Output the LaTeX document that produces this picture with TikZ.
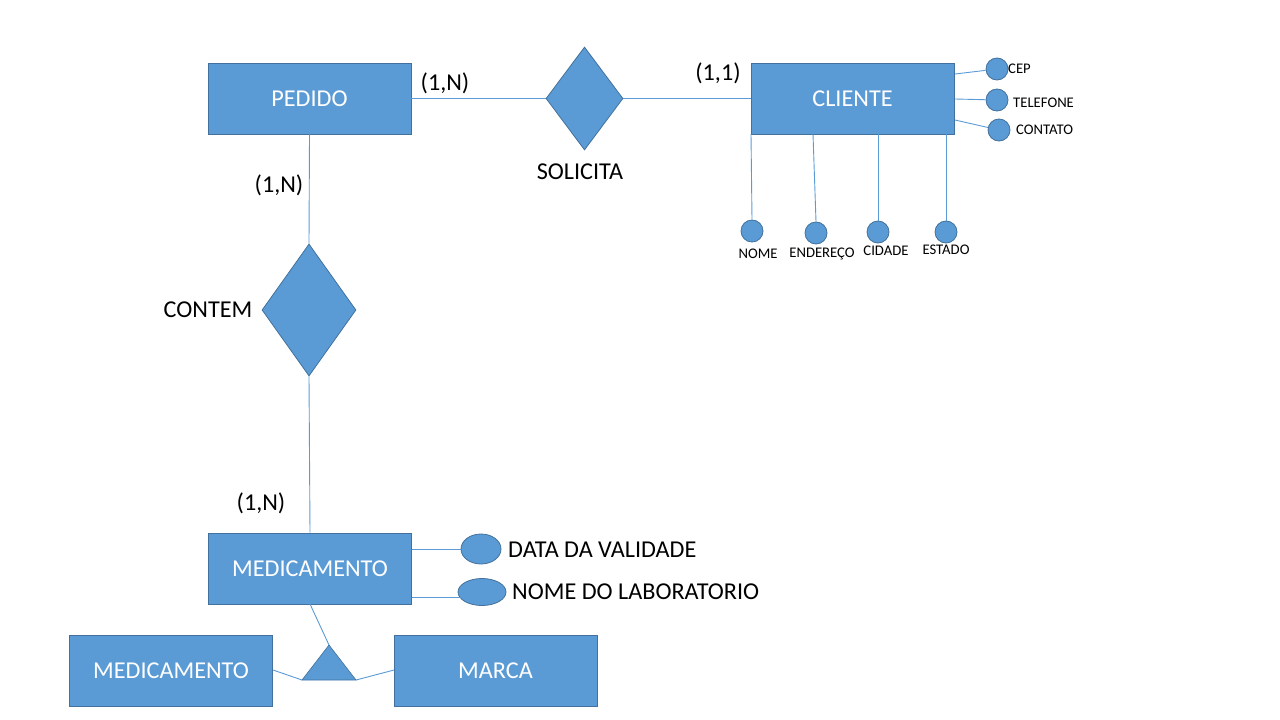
\documentclass[tikz,border=0pt]{standalone}
\usepackage{fontspec}
\setmainfont{Carlito}
\usetikzlibrary{shapes.geometric}
\definecolor{fillb}{HTML}{5B9BD5}
\definecolor{edgeb}{HTML}{41719C}
\begin{document}
\begin{tikzpicture}[x=1pt,y=-1pt,
  ent/.style={draw=edgeb,fill=fillb,line width=0.8pt,minimum width=203pt,minimum height=71pt,inner sep=0pt,text=white,font=\fontsize{24.2}{28}\selectfont},
  rel/.style={diamond,draw=edgeb,fill=fillb,line width=0.8pt,inner sep=0pt},
  att/.style={circle,draw=edgeb,fill=fillb,line width=0.8pt,minimum size=22pt,inner sep=0pt},
  oval/.style={ellipse,draw=edgeb,fill=fillb,line width=0.8pt,inner sep=0pt},
  lbl/.style={font=\fontsize{24.2}{28}\selectfont,inner sep=0pt},
  sml/.style={font=\fontsize{14.7}{17}\selectfont,inner sep=0pt},
  conn/.style={draw=fillb,line width=0.9pt}]
\useasboundingbox (0,0) rectangle (1280,720);
% entities
\node[ent] (pedido) at (309.5,98.5) {PEDIDO};
\node[ent] (cliente) at (852.5,98.5) {CLIENTE};
\node[ent] (med) at (310,568.5) {MEDICAMENTO};
\node[ent] (med2) at (171,670.5) {MEDICAMENTO};
\node[ent] (marca) at (495.5,670.5) {MARCA};
% relationships
\node[rel,minimum width=77pt,minimum height=103pt] (solicita) at (584.5,98.5) {};
\node[rel,minimum width=94pt,minimum height=132pt] (contem) at (309,310) {};
\node[lbl] (lsol) at (580,172) {SOLICITA};
\node[lbl] (lcon) at (208,310) {CONTEM};
% cardinalities
\node[lbl] (c1) at (445,83) {(1,N)};
\node[lbl] (c2) at (718,73) {(1,1)};
\node[lbl] (c3) at (279,185) {(1,N)};
\node[lbl] (c4) at (261,503) {(1,N)};
% relationship connectors
\draw[conn] (pedido.east) -- (solicita.west);
\draw[conn] (solicita.east) -- (cliente.west);
\draw[conn] (pedido.south) -- (contem.north);
\draw[conn] (contem.south) -- (med.north);
% cliente right attributes
\node[att] (cep) at (997,69) {};
\node[att] (tel) at (997,100) {};
\node[att] (cont) at (999,130) {};
\node[sml,anchor=west] (lcep) at (1008,69) {CEP};
\node[sml,anchor=west] (ltel) at (1013,103) {TELEFONE};
\node[sml,anchor=west] (lcont) at (1016,130) {CONTATO};
\coordinate (cr1) at (955,74);
\coordinate (cr2) at (955,99);
\coordinate (cr3) at (955,120);
\draw[conn] (cr1) -- (cep);
\draw[conn] (cr2) -- (tel);
\draw[conn] (cr3) -- (cont);
% cliente bottom attributes
\node[att] (nome) at (752,231) {};
\node[att] (end) at (816,233) {};
\node[att] (cid) at (878,232) {};
\node[att] (est) at (946,232) {};
\node[sml] (lnome) at (758,254) {NOME};
\node[sml] (lend) at (822,254) {ENDEREÇO};
\node[sml] (lcid) at (886,251) {CIDADE};
\node[sml] (lest) at (946,250) {ESTADO};
\coordinate (cb1) at (751,134);
\coordinate (cb2) at (813,134);
\coordinate (cb3) at (878,134);
\coordinate (cb4) at (946,134);
\draw[conn] (cb1) -- (nome.north);
\draw[conn] (cb2) -- (end.north);
\draw[conn] (cb3) -- (cid.north);
\draw[conn] (cb4) -- (est.north);
% medicamento attributes
\node[oval,minimum width=40pt,minimum height=30pt] (val) at (481,549) {};
\node[oval,minimum width=48pt,minimum height=27pt] (lab) at (482,592) {};
\node[lbl,anchor=west] (lval) at (508,550) {DATA DA VALIDADE};
\node[lbl,anchor=west] (llab) at (512,592) {NOME DO LABORATORIO};
\coordinate (mr1) at (412,549);
\coordinate (mr2) at (412,597);
\draw[conn] (mr1) -- (val.west);
\draw[conn] (mr2) -- (lab.south west |- mr2);
% specialization triangle
\coordinate (tapex) at (329,645);
\coordinate (tbl) at (302,680);
\coordinate (tbr) at (356,680);
\fill[fillb] (tapex) -- (tbl) -- (tbr) -- cycle;
\draw[edgeb,line width=0.6pt] (tapex) -- (tbl) -- (tbr) -- cycle;
\coordinate (mb) at (310,604);
\coordinate (m2r) at (273,670);
\coordinate (mal) at (394,670);
\draw[conn] (mb) -- (tapex);
\draw[conn] (m2r) -- (tbl);
\draw[conn] (tbr) -- (mal);
\end{tikzpicture}
\end{document}
